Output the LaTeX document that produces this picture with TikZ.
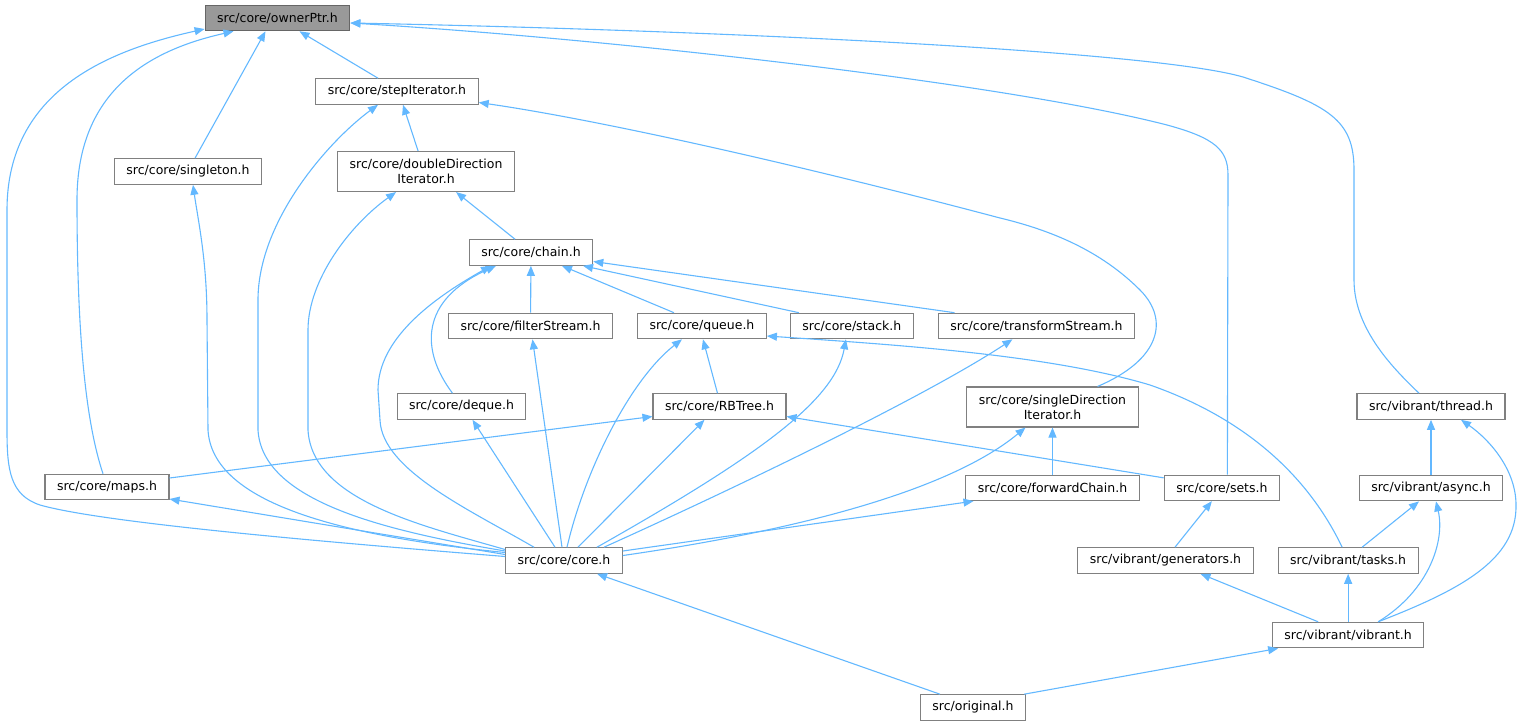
\documentclass[tikz,border=0pt]{standalone}
\usepackage{fontspec}
\setmainfont{DejaVu Sans}
\usetikzlibrary{arrows.meta}
\usetikzlibrary{positioning}
\definecolor{edgeblue}{HTML}{63B8FF}
\definecolor{boxgray}{HTML}{808080}
\definecolor{rootgray}{HTML}{999999}
\definecolor{rootline}{HTML}{666666}
\tikzstyle{file} = [rectangle, draw=boxgray, line width=1.1pt, fill=white, inner xsep=12pt, inner ysep=0pt, minimum height=25.5pt, align=center, font=\fontsize{12.5}{15}\selectfont]
\tikzstyle{root file} = [file, fill=rootgray, draw=rootline]
\tikzstyle{tall file} = [file, minimum height=40pt]
\tikzstyle{link} = [draw=edgeblue, line width=1.1pt, -{Triangle[length=10pt,width=8pt]}]

\begin{document}
\begin{tikzpicture}[x=1pt, y=-1pt]
  \useasboundingbox (0,0) rectangle (1523,725);
  \node[root file] (owner) at (277.5,18) {src/core/ownerPtr.h};
  \node[file] (stepiter) at (397,91.5) {src/core/stepIterator.h};
  \node[file] (singleton) at (188,171.5) {src/core/singleton.h};
  \node[tall file] (dbldir) [right=75pt of singleton] {src/core/doubleDirection\\Iterator.h};
  \node[file] (chain) at (531,252.5) {src/core/chain.h};
  \node[file] (filter) at (530.5,326) {src/core/filterStream.h};
  \node[file] (queue) [right=24pt of filter] {src/core/queue.h};
  \node[file] (stack) [right=23pt of queue] {src/core/stack.h};
  \node[file] (transform) [right=24pt of stack] {src/core/transformStream.h};
  \node[file] (deque) at (461.5,406.5) {src/core/deque.h};
  \node[file] (rbtree) [right=126pt of deque] {src/core/RBTree.h};
  \node[tall file] (sgldir) at (1052.5,407) {src/core/singleDirection\\Iterator.h};
  \node[file] (thread) at (1431,406.5) {src/vibrant/thread.h};
  \node[file] (maps) at (107,487) {src/core/maps.h};
  \node[file] (fwdchain) [below=47pt of sgldir] {src/core/forwardChain.h};
  \node[file] (sets) [right=24pt of fwdchain] {src/core/sets.h};
  \node[file] (async) [below=55pt of thread] {src/vibrant/async.h};
  \node[file] (core) at (564,560.5) {src/core/core.h};
  \node[file] (gens) at (1165.5,560.5) {src/vibrant/generators.h};
  \node[file] (tasks) [right=24pt of gens] {src/vibrant/tasks.h};
  \node[file] (vibrant) [below=48pt of tasks] {src/vibrant/vibrant.h};
  \node[file] (original) at (973,707.5) {src/original.h};

  \draw[link] ([xshift=-19pt]stepiter.north) -- ([xshift=22pt]owner.south);
  \draw[link] ([xshift=7pt]singleton.north) -- ([xshift=-12pt]owner.south);
  \draw[link] ([xshift=-4pt]maps.north) .. controls (85,420) and (77,330) .. (77,200) .. controls (77,90) and (150,50) .. ([xshift=-44pt]owner.south);
  \draw[link] ([yshift=4pt]core.west) .. controls (300,540) and (100,522) .. (40,505) .. controls (10,495) and (7,470) .. (7,430) -- (7,210) .. controls (7,90) and (110,50) .. ([yshift=-11pt]owner.west);
  \draw[link] ([xshift=5.5pt]sets.north) -- (1228,175) .. controls (1228,150) and (1215,138) .. (1167,125) .. controls (1000,82) and (600,38) .. ([yshift=-5pt]owner.east);
  \draw[link] ([xshift=-12pt]thread.north) .. controls (1395,370) and (1354,330) .. (1354,280) -- (1354,170) .. controls (1354,120) and (1330,105) .. (1243,77) .. controls (1150,50) and (700,30) .. ([yshift=-5pt]owner.east);
  \draw[link] ([xshift=-8pt]dbldir.north) -- ([xshift=6pt]stepiter.south);
  \draw[link] ([yshift=9.5pt]core.west) .. controls (380,530) and (262,500) .. (258,430) -- (258,300) .. controls (258,220) and (330,140) .. ([xshift=-19pt]stepiter.south);
  \draw[link] ([xshift=45pt]sgldir.north) .. controls (1160,360) and (1170,320) .. (1140,290) .. controls (1100,250) and (1050,230) .. (1000,218) .. controls (800,165) and (600,120) .. ([yshift=-11pt]stepiter.east);
  \draw[link] ([yshift=8pt]core.west) .. controls (330,535) and (212,500) .. (208,430) -- (207,320) .. controls (207,260) and (198,220) .. ([xshift=5pt]singleton.south);
  \draw[link] ([xshift=-16pt]chain.north) -- ([xshift=30pt]dbldir.south);
  \draw[link] ([yshift=11pt]core.west) .. controls (420,525) and (312,500) .. (308,430) -- (308,330) .. controls (308,280) and (350,225) .. ([xshift=-30pt]dbldir.south);
  \draw[link] (filter) -- (chain);
  \draw[link] ([xshift=-28pt]queue.north) -- ([xshift=31pt]chain.south);
  \draw[link] ([xshift=-53pt]stack.north) -- ([xshift=52pt]chain.south);
  \draw[link] ([xshift=-82pt]transform.north) -- ([yshift=-9pt]chain.east);
  \draw[link] ([xshift=-9pt]deque.north) .. controls (420,350) and (420,300) .. ([xshift=-35pt]chain.south);
  \draw[link] ([xshift=-30pt]core.north) .. controls (470,510) and (382,470) .. (380,420) -- (378,390) .. controls (378,340) and (430,300) .. ([xshift=-40pt]chain.south);
  \draw[link] ([xshift=-2pt]rbtree.north) -- ([xshift=1pt]queue.south);
  \draw[link] ([xshift=3pt]core.north) .. controls (585,470) and (630,380) .. ([xshift=-20pt]queue.south);
  \draw[link] ([xshift=-6pt]tasks.north) .. controls (1310,480) and (1250,420) .. (1150,385) .. controls (1050,355) and (900,345) .. ([yshift=-10pt]queue.east);
  \draw[link] ([xshift=33pt]core.north) .. controls (760,455) and (835,400) .. ([xshift=-6pt]stack.south);
  \draw[link] ([xshift=40pt]core.north) .. controls (720,495) and (920,400) .. ([xshift=-24pt]transform.south);
  \draw[link] ([xshift=-9pt]core.north) -- ([xshift=11pt]deque.south);
  \draw[link] ([xshift=-2pt]core.north) -- ([xshift=2pt]filter.south);
  \draw[link] ([xshift=14pt]core.north) -- ([xshift=-15pt]rbtree.south);
  \draw[link] ([yshift=9pt]maps.east) -- ([yshift=-10pt]rbtree.west);
  \draw[link] ([yshift=10pt]sets.west) -- ([yshift=-10pt]rbtree.east);
  \draw[link] (fwdchain) -- (sgldir);
  \draw[link] ([yshift=5pt]core.east) .. controls (800,530) and (950,490) .. ([xshift=-27pt]sgldir.south);
  \draw[link] ([yshift=9.5pt]core.east) -- ([xshift=-79pt]fwdchain.south);
  \draw[link] ([yshift=6pt]core.west) -- ([yshift=-12pt]maps.east);
  \draw[link] ([xshift=9.5pt]gens.north) -- ([xshift=-10pt]sets.south);
  \draw[link] (async) -- (thread);
  \draw[link] ([xshift=30pt]vibrant.north) .. controls (1460,590) and (1517,560) .. (1516,505) .. controls (1516,470) and (1490,440) .. ([xshift=30pt]thread.south);
  \draw[link] ([xshift=14pt]tasks.north) -- ([xshift=-12pt]async.south);
  \draw[link] ([xshift=30pt]vibrant.north) .. controls (1430,590) and (1445,540) .. ([xshift=5pt]async.south);
  \draw[link] (vibrant) -- (tasks);
  \draw[link] ([xshift=-30pt]vibrant.north) -- ([xshift=35pt]gens.south);
  \draw[link] ([xshift=-2pt]original.north east) -- ([xshift=-70pt]vibrant.south);
  \draw[link] ([xshift=-33pt]original.north) -- ([xshift=33pt]core.south);
\end{tikzpicture}
\end{document}
